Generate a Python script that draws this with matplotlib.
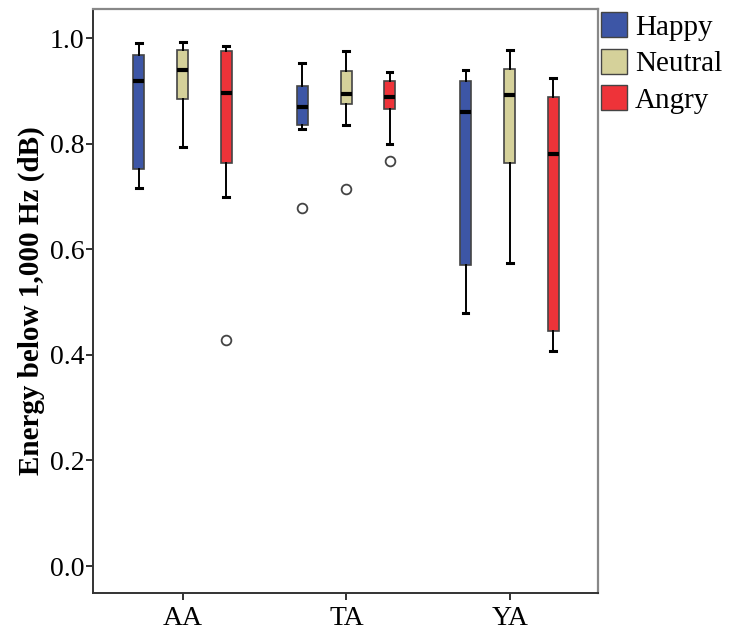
import matplotlib
matplotlib.use("Agg")
import matplotlib.pyplot as plt
from matplotlib.patches import Patch

# data
groups = ["AA", "TA", "YA"]
emotions = ["Happy", "Neutral", "Angry"]
colors = ["#3d56a6", "#d5d19a", "#ee3339"]

# per group, per emotion: whislo, q1, median, q3, whishi
whislo = [[0.716, 0.794, 0.699], [0.828, 0.835, 0.799], [0.479, 0.574, 0.407]]
q1 = [[0.752, 0.884, 0.763], [0.836, 0.876, 0.866], [0.570, 0.764, 0.446]]
med = [[0.918, 0.939, 0.896], [0.870, 0.895, 0.889], [0.860, 0.893, 0.781]]
q3 = [[0.968, 0.977, 0.975], [0.910, 0.938, 0.919], [0.919, 0.941, 0.888]]
whishi = [[0.991, 0.993, 0.985], [0.953, 0.976, 0.936], [0.940, 0.977, 0.924]]
fliers = [[[], [], [0.428]], [[0.678], [0.714], [0.768]], [[], [], []]]

plt.rcParams["font.family"] = ["Liberation Serif", "DejaVu Serif"]

fig = plt.figure(figsize=(7.29, 6.36), dpi=100)
ax = fig.add_axes([0.1276, 0.0676, 0.6927, 0.9182])

offsets = [-0.27, 0.0, 0.265]
for gi in range(len(groups)):
    for ei in range(len(emotions)):
        st = dict(whislo=whislo[gi][ei], q1=q1[gi][ei], med=med[gi][ei],
                  q3=q3[gi][ei], whishi=whishi[gi][ei], fliers=fliers[gi][ei])
        ax.bxp([st], positions=[gi + offsets[ei]], widths=0.068,
               capwidths=0.035, patch_artist=True, showfliers=True,
               boxprops=dict(facecolor=colors[ei], edgecolor="#444444", linewidth=1.2),
               medianprops=dict(color="black", linewidth=3, solid_capstyle="butt"),
               whiskerprops=dict(color="black", linewidth=1.4),
               capprops=dict(color="black", linewidth=2.2),
               flierprops=dict(marker="o", markerfacecolor="white",
                               markeredgecolor="#444444", markersize=7,
                               markeredgewidth=1.3))

ax.set_xlim(-0.55, 2.54)
ax.set_ylim(-0.051, 1.055)
ax.set_xticks(range(len(groups)))
ax.set_xticklabels(groups)
ax.set_yticks([0.0, 0.2, 0.4, 0.6, 0.8, 1.0])
ax.set_yticklabels(["0.0", "0.2", "0.4", "0.6", "0.8", "1.0"])
ax.tick_params(axis="both", labelsize=20, length=5, width=1.3, direction="out",
               colors="#222222", labelcolor="black")
ax.tick_params(axis="x", pad=4)
ax.tick_params(axis="y", pad=1)
ax.set_ylabel("Energy below 1,000 Hz (dB)", fontsize=21, fontweight="bold", labelpad=4)

for side in ["left", "bottom"]:
    ax.spines[side].set_color("#333333")
    ax.spines[side].set_linewidth(1.4)
for side in ["top", "right"]:
    ax.spines[side].set_color("#888888")
    ax.spines[side].set_linewidth(1.6)

handles = [Patch(facecolor=c, edgecolor="#444444", linewidth=1.0) for c in colors]
ax.legend(handles, emotions, loc="upper left", bbox_to_anchor=(1.0, 1.0),
          frameon=False, fontsize=21, handlelength=0.9, handleheight=0.96,
          handletextpad=0.27, labelspacing=0.27, borderaxespad=0.1,
          borderpad=0.0)

fig.savefig("out.png", dpi=100)
